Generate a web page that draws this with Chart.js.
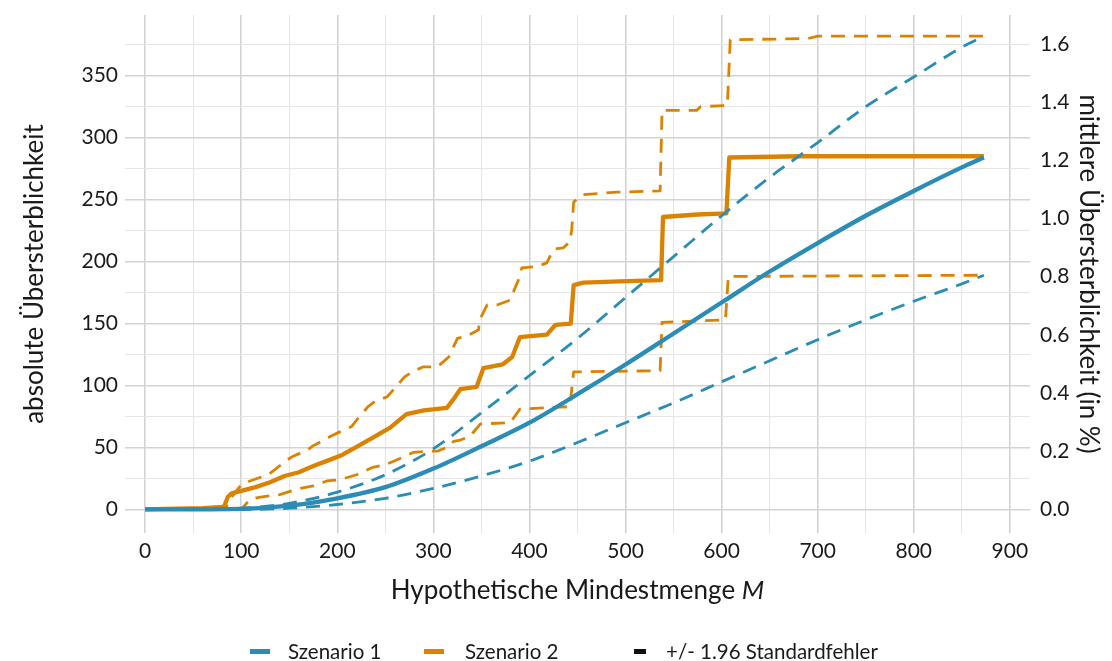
<!DOCTYPE html>
<html>
<head>
<meta charset="utf-8">
<script src="https://cdn.jsdelivr.net/npm/chart.js@4.4.1/dist/chart.umd.min.js"></script>
<style>
  body { margin: 0; background: #fff; }
  #wrap { position: relative; width: 1112px; height: 661px; font-family: Lato, "Open Sans", sans-serif; }
  #legend { position: absolute; left: 0; top: 639px; width: 1112px; height: 24px; font-size: 20.5px; color: #1a1a1a; }
  #legend span { position: absolute; white-space: nowrap; }
  #legend .key { height: 5px; top: 10px; }
  #legend .txt { top: 0; line-height: 24px; }
</style>
</head>
<body>
<div id="wrap">
  <canvas id="chart" width="1112" height="661"></canvas>
  <div id="legend"></div>
</div>
<script>
// Szenario 1 (smooth) - x grid and values
const s1X   = [0, 100, 150, 200, 250, 300, 350, 400, 450, 500, 550, 600, 650, 700, 750, 800, 850, 873];
const s1Mid = [0, 0.5, 3, 9, 18, 33, 51, 70, 93, 117, 142, 167, 192, 215, 237, 257, 276, 284];
const s1Hi  = [0, 1, 5, 14, 28, 49, 78, 108, 138, 171, 204, 237, 268, 296, 325, 349, 373, 382];
const s1Lo  = [0, 0, 1, 4, 9, 17, 27, 39, 54, 70, 86, 103, 120, 137, 153, 168, 182, 189];

// Szenario 2 (step-like)
const s2X = [0, 20, 60, 82, 86, 90, 100, 115, 130, 145, 160, 175, 192, 205, 221, 237, 255, 272, 290, 314,
             321, 328, 345, 352, 372, 382, 390, 418, 427, 443, 446, 456, 494, 537, 539, 575, 605, 608, 680, 873];
const s2Y = [0, 0.5, 1, 2, 10, 13, 15, 18, 22, 27, 30, 35, 40, 44, 51, 58, 66, 77, 80, 82,
             89, 97, 99, 114, 117, 123, 139, 141, 149, 150, 181, 183, 184, 185, 236, 238, 239, 284, 285, 285];

const s2HiX = [0, 60, 85, 90, 100, 109, 128, 148, 154, 169, 174, 193, 201, 215, 221, 232, 239, 252, 260, 270,
               278, 289, 304, 316, 319, 325, 335, 347, 348, 356, 366, 380, 383, 390, 392, 408, 418, 425, 435, 442,
               444, 446, 455, 491, 536, 538, 574, 578, 606, 609, 690, 700, 873];
const s2HiY = [0, 1, 3, 10, 20, 23, 28, 40, 43, 48, 51, 59, 62, 67, 73, 83, 87, 91, 98, 107,
               111, 115, 115, 123, 128, 138, 140, 145, 153, 165, 165, 169, 175, 188, 195, 196, 199, 210, 211, 216,
               226, 248, 254, 256, 257, 322, 322, 325, 326, 379, 380, 382, 382];

const s2LoX = [0, 100, 109, 120, 140, 161, 175, 189, 203, 220, 237, 250, 268, 279, 293, 304, 317, 321, 328, 338,
               349, 380, 390, 442, 446, 536, 538, 604, 607, 873];
const s2LoY = [0, 0, 8, 10, 12, 17, 19, 23, 24, 28, 34, 36, 42, 46, 47, 47, 51, 55, 56, 59,
               69, 70, 81, 83, 111, 112, 151, 153, 188, 189];

// axes
const xTicks = [0, 50, 100, 150, 200, 250, 300, 350, 400, 450, 500, 550, 600, 650, 700, 750, 800, 850, 900];
const yTicks = [0, 25, 50, 75, 100, 125, 150, 175, 200, 225, 250, 275, 300, 325, 350, 375];
const pctTicks = [0, 0.2, 0.4, 0.6, 0.8, 1.0, 1.2, 1.4, 1.6];
const xRange = [-21, 921];
const yRange = [-19, 399];
const pctPerUnit = 1.6 / 375.8;

const legendItems = ['Szenario 1', 'Szenario 2', '+/- 1.96 Standardfehler'];

const BLUE = '#2b8cb5';
const ORANGE = '#db8300';
const FONT = 'Lato, "Open Sans", sans-serif';
const TXT = '#1a1a1a';

const pts = (xs, ys) => xs.map((x, i) => ({ x: x, y: ys[i] }));

function lineSet(label, xs, ys, color, dashed, smooth, order) {
  return {
    label: label,
    data: pts(xs, ys),
    borderColor: color,
    backgroundColor: color,
    borderWidth: dashed ? 2.8 : 4.3,
    borderDash: dashed ? [14, 9] : [],
    pointRadius: 0,
    fill: false,
    tension: smooth ? 0.4 : 0,
    cubicInterpolationMode: smooth ? 'monotone' : 'default',
    borderCapStyle: 'butt',
    borderJoinStyle: 'round',
    order: order
  };
}

const isMajor = (v, step) => Math.abs(v / step - Math.round(v / step)) < 1e-6;

// x axis title with italic M
const xTitlePlugin = {
  id: 'xTitle',
  afterDraw(chart) {
    const ctx = chart.ctx;
    const a = chart.chartArea;
    const cx = (a.left + a.right) / 2;
    const y = 591;
    const part1 = 'Hypothetische Mindestmenge ';
    const part2 = 'M';
    ctx.save();
    ctx.fillStyle = TXT;
    ctx.textBaseline = 'middle';
    ctx.font = '26px ' + FONT;
    const w1 = ctx.measureText(part1).width;
    ctx.font = 'italic 26px ' + FONT;
    const w2 = ctx.measureText(part2).width;
    const x0 = cx - (w1 + w2) / 2;
    ctx.textAlign = 'left';
    ctx.font = '26px ' + FONT;
    ctx.fillText(part1, x0, y);
    ctx.font = 'italic 26px ' + FONT;
    ctx.fillText(part2, x0 + w1, y);
    ctx.restore();
  }
};

new Chart(document.getElementById('chart'), {
  type: 'line',
  data: {
    datasets: [
      lineSet('Szenario 2 oben', s2HiX, s2HiY, ORANGE, true, false, 2),
      lineSet('Szenario 2 unten', s2LoX, s2LoY, ORANGE, true, false, 2),
      lineSet('Szenario 2', s2X, s2Y, ORANGE, false, false, 2),
      lineSet('Szenario 1 oben', s1X, s1Hi, BLUE, true, true, 1),
      lineSet('Szenario 1 unten', s1X, s1Lo, BLUE, true, true, 1),
      lineSet('Szenario 1', s1X, s1Mid, BLUE, false, true, 0)
    ]
  },
  options: {
    responsive: false,
    animation: false,
    layout: { padding: { top: 15, left: 0, right: 0, bottom: 0 } },
    plugins: { legend: { display: false }, tooltip: { enabled: false } },
    scales: {
      x: {
        type: 'linear',
        min: xRange[0],
        max: xRange[1],
        afterBuildTicks: s => { s.ticks = xTicks.map(v => ({ value: v })); },
        afterFit: s => { s.height = 128; s.paddingLeft = 0; s.paddingRight = 0; },
        border: { display: false },
        grid: {
          drawTicks: false,
          color: c => isMajor(c.tick.value, 100) ? '#d3d3d3' : '#e6e6e6',
          lineWidth: c => isMajor(c.tick.value, 100) ? 1.6 : 1.1
        },
        ticks: {
          padding: 6,
          maxRotation: 0,
          autoSkip: false,
          color: TXT,
          font: { family: FONT, size: 21 },
          callback: v => isMajor(v, 100) ? String(v) : ''
        }
      },
      y: {
        type: 'linear',
        position: 'left',
        min: yRange[0],
        max: yRange[1],
        afterBuildTicks: s => { s.ticks = yTicks.map(v => ({ value: v })); },
        afterFit: s => { s.width = 125; s.paddingTop = 0; s.paddingBottom = 0; },
        border: { display: false },
        grid: {
          drawTicks: false,
          color: c => isMajor(c.tick.value, 50) ? '#d3d3d3' : '#e6e6e6',
          lineWidth: c => isMajor(c.tick.value, 50) ? 1.6 : 1.1
        },
        ticks: {
          padding: 7,
          autoSkip: false,
          color: TXT,
          font: { family: FONT, size: 21 },
          callback: v => isMajor(v, 50) ? String(v) : ''
        },
        title: {
          display: true,
          text: 'absolute Übersterblichkeit',
          color: TXT,
          font: { family: FONT, size: 26 },
          padding: { top: 19, bottom: 0 }
        }
      },
      y2: {
        type: 'linear',
        position: 'right',
        min: yRange[0] * pctPerUnit,
        max: yRange[1] * pctPerUnit,
        afterBuildTicks: s => { s.ticks = pctTicks.map(v => ({ value: v })); },
        afterFit: s => { s.width = 82; s.paddingTop = 0; s.paddingBottom = 0; },
        border: { display: false },
        grid: { display: false, drawTicks: false },
        ticks: {
          padding: 10,
          autoSkip: false,
          color: TXT,
          font: { family: FONT, size: 21 },
          callback: v => v.toFixed(1)
        },
        title: {
          display: true,
          text: 'mittlere Übersterblichkeit (in %)',
          color: TXT,
          font: { family: FONT, size: 26 },
          padding: { top: 8, bottom: 0 }
        }
      }
    }
  },
  plugins: [xTitlePlugin]
});

// legend below the plot
const legendColors = [BLUE, ORANGE, '#111'];
const legendKeyX = [250, 424, 634];
const legendKeyW = [20, 20, 12];
const legendTextX = [288, 465, 666];
const legend = document.getElementById('legend');
legendItems.forEach((name, i) => {
  const key = document.createElement('span');
  key.className = 'key';
  key.style.left = legendKeyX[i] + 'px';
  key.style.width = legendKeyW[i] + 'px';
  key.style.background = legendColors[i];
  const txt = document.createElement('span');
  txt.className = 'txt';
  txt.style.left = legendTextX[i] + 'px';
  txt.textContent = name;
  legend.appendChild(key);
  legend.appendChild(txt);
});
</script>
</body>
</html>
